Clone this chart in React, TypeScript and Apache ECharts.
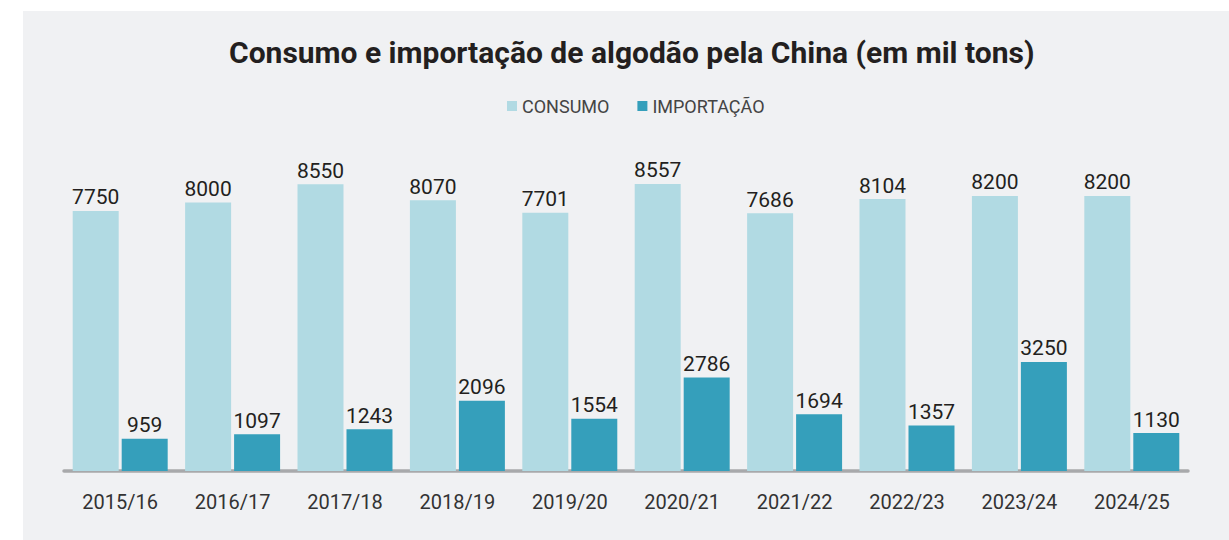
import React, { useEffect, useRef } from "react";
import * as echarts from "echarts";

const TITLE = "Consumo e importação de algodão pela China (em mil tons)";
const categories = ["2015/16", "2016/17", "2017/18", "2018/19", "2019/20", "2020/21", "2021/22", "2022/23", "2023/24", "2024/25"];
const consumo = [7750, 8000, 8550, 8070, 7701, 8557, 7686, 8104, 8200, 8200];
const importacao = [959, 1097, 1243, 2096, 1554, 2786, 1694, 1357, 3250, 1130];
const seriesNames = ["CONSUMO", "IMPORTAÇÃO"];
const colors = ["#b1dae3", "#359fbb"];

export default function App() {
  const ref = useRef<HTMLDivElement>(null);
  useEffect(() => {
    if (!ref.current) return;
    const chart = echarts.init(ref.current, undefined, { renderer: "svg" });
    const labelStyle = {
      show: true,
      position: "top",
      distance: 3,
      fontFamily: "Roboto",
      fontSize: 21,
      color: "#231f20",
      letterSpacing: -0.8,
    };
    chart.setOption({
      animation: false,
      backgroundColor: "#ffffff",
      graphic: [
        {
          type: "rect",
          z: -10,
          silent: true,
          shape: { x: 23, y: 11, width: 1206, height: 529 },
          style: { fill: "#f0f1f3" },
        },
      ],
      title: {
        text: TITLE,
        left: 224,
        top: 32,
        textStyle: {
          fontFamily: "Roboto",
          fontWeight: "bold",
          fontSize: 30,
          color: "#231f20",
          letterSpacing: -0.65,
        },
      },
      legend: {
        top: 92,
        left: 502,
        itemWidth: 10,
        itemHeight: 10,
        itemGap: 28,
        icon: "rect",
        textStyle: { fontFamily: "Roboto", fontSize: 18, color: "#444" },
        data: seriesNames,
      },
      grid: { left: 64, right: 41, top: 135.5, bottom: 69, containLabel: false },
      xAxis: {
        type: "category",
        data: categories,
        offset: 3,
        axisLine: { lineStyle: { color: "#a8a9ab", width: 3.5 } },
        axisTick: { show: false },
        axisLabel: { fontFamily: "Roboto", fontSize: 20, color: "#333", margin: 18 },
      },
      yAxis: {
        type: "value",
        min: 0,
        max: 10000,
        show: false,
        splitLine: { show: false },
      },
      series: [
        {
          name: seriesNames[0],
          type: "bar",
          data: consumo,
          itemStyle: { color: colors[0] },
          barGap: "6.5%",
          barCategoryGap: "15.5%",
          label: labelStyle,
        },
        {
          name: seriesNames[1],
          type: "bar",
          data: importacao,
          itemStyle: { color: colors[1] },
          barGap: "6.5%",
          barCategoryGap: "15.5%",
          label: labelStyle,
        },
      ],
    });
    return () => chart.dispose();
  }, []);
  return (
    <div
      ref={ref}
      style={{ position: "absolute", left: 0, top: 0, width: 1229, height: 540 }}
    />
  );
}
